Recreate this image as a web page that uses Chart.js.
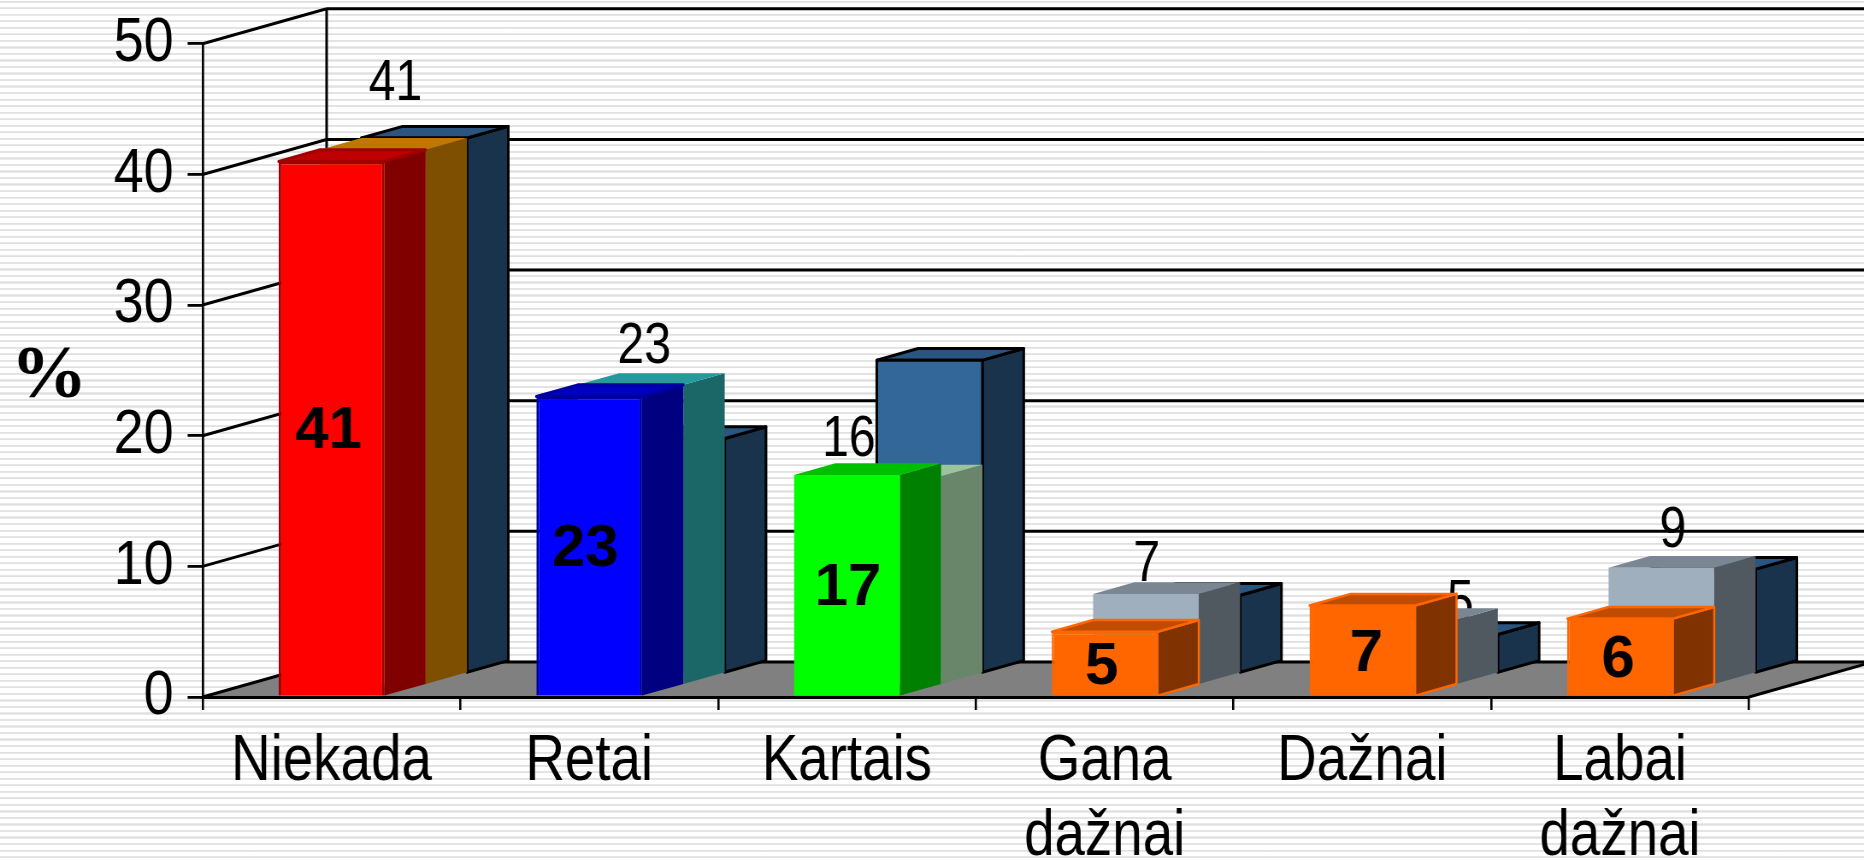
<!DOCTYPE html>
<html><head><meta charset="utf-8">
<script src="https://cdn.jsdelivr.net/npm/chart.js@4/dist/chart.umd.js"></script>
<style>
html,body{margin:0;padding:0;width:1864px;height:861px;overflow:hidden;background:#fff}
#bg{position:absolute;left:0;top:0;width:1864px;height:861px;
background-image:repeating-linear-gradient(to bottom,#fff 0,#fff 0.6px,#ebebeb 0.6px,#dedede 1.7px,#ebebeb 2.8px,#fff 2.8px,#fff 6.53px)}
#wrap{position:absolute;left:0;top:0;transform-origin:0 0}
canvas{display:block}
</style></head><body>
<div id="bg"></div>
<div id="wrap"><canvas id="c"></canvas></div>
<script>
const categories=[["Niekada"],["Retai"],["Kartais"],["Gana","dažnai"],["Dažnai"],["Labai","dažnai"]];
const yTicksMax=50, yStep=10;
const frontValues=[41,23,17,5,7,6];
const middleValues=[41,23,16,7,5,9];
const backValues=[41,18,24,6,3,8];

const frontColors=['#FF0000','#0000FF','#00FF00','#FF6600','#FF6600','#FF6600'];
const frontSides=['#800000','#000080','#008000','#803300','#803300','#803300'];
const frontTops=['#BF0000','#0000BF','#00BF00','#BF4C00','#BF4C00','#BF4C00'];
const frontBorders=['#A00000','#0000A0','#00FF00','#FF6600','#FF6600','#FF6600'];
const frontBorderW=[3,3,0,2.5,2.5,2.5];
const middleColors=['#FF9E00','#33CCCC','#D2F5D0','#A0AFBE','#A0AFBE','#A0AFBE'];
const middleSides=['#7F4F00','#1B6667','#69866A','#505860','#505860','#505860'];
const middleTops=['#BF7700','#269A9A','#9DC39C','#7A8793','#7A8793','#7A8793'];
const backColor='#336699',backSide='#1A334D',backTop='#2A5580';

// hand-placed data labels of the middle row (offset from its bar)
const midLabelShift=[64,55,2,42,98,53];
const midLabelLift=[37.7,10,9,1,-12,9];
const boldLabelShift=[-3,-4,1,-3,4,-2];

const S=0.855;                 // horizontal squeeze of the whole picture
const PW=1864,PH=861;
const X=v=>v/S;
const depthX=X(124),depthY=35,rows=3;
const rowDX=depthX/rows,rowDY=depthY/rows;

const wrap=document.getElementById('wrap');
wrap.style.transform='scaleX('+S+')';
const cv=document.getElementById('c');
cv.width=Math.round(PW/S);cv.height=PH;
cv.style.width=cv.width+'px';cv.style.height=PH+'px';

function poly(ctx,pts,fill,stroke,lw){
  ctx.beginPath();pts.forEach((p,i)=>i?ctx.lineTo(p[0],p[1]):ctx.moveTo(p[0],p[1]));ctx.closePath();
  if(fill){ctx.fillStyle=fill;ctx.fill();}
  if(stroke){ctx.strokeStyle=stroke;ctx.lineWidth=lw;ctx.lineJoin='round';ctx.stroke();}
}
function line(ctx,x1,y1,x2,y2,w){ctx.beginPath();ctx.moveTo(x1,y1);ctx.lineTo(x2,y2);ctx.strokeStyle='#000';ctx.lineWidth=w;ctx.stroke();}
function text(ctx,t,x,y,font,sx){ctx.save();ctx.translate(x,y);ctx.scale(sx,1);ctx.font=font;ctx.fillStyle='#000';ctx.textAlign='center';ctx.textBaseline='alphabetic';ctx.fillText(t,0,0);ctx.restore();}

const depthPlugin={
  id:'depth',
  beforeDraw(chart){
    const ctx=chart.ctx,ys=chart.scales.y,a=chart.chartArea;
    const L=a.left,R=a.right,y0=ys.getPixelForValue(0);
    ctx.save();
    // floor
    poly(ctx,[[L,y0],[L+depthX,y0-depthY],[R+depthX,y0-depthY],[R,y0]],'#808080');
    // walls
    ys.ticks.forEach(t=>{
      const y=ys.getPixelForValue(t.value);
      line(ctx,L,y,L+depthX,y-depthY,3);
      line(ctx,L+depthX,y-depthY,cv.width,y-depthY,3);
    });
    line(ctx,L+depthX,ys.getPixelForValue(yTicksMax)-depthY,L+depthX,y0-depthY,3);
    line(ctx,R,y0,R+depthX,y0-depthY,3);
    ctx.restore();
  },
  beforeDatasetDraw(chart,args){
    const ctx=chart.ctx,ds=chart.data.datasets[args.index],meta=args.meta;
    // middle row labels sit behind the middle row's bars
    if(ds.row===1){
      meta.data.forEach((el,i)=>{
        const yb=el.y-2*rowDY-midLabelLift[i];
        text(ctx,String(ds.data[i]),el.x+X(midLabelShift[i]),yb,'58px "Liberation Sans"',0.83/S);
      });
    }
    ctx.save();
    ctx.translate(ds.row*rowDX,-ds.row*rowDY);
    meta.data.forEach((el,i)=>{
      const w=el.width,xl=el.x-w/2,xr=el.x+w/2,yt=el.y,yb=el.base;
      const stroke=ds.edge?ds.edge[i]:null, lw=ds.edgeW?ds.edgeW[i]:0;
      const topEdge=lw?stroke:null;
      poly(ctx,[[xr,yt],[xr+rowDX,yt-rowDY],[xr+rowDX,yb-rowDY],[xr,yb]],ds.sides[i],ds.row===0&&i<3?null:topEdge,lw);
      poly(ctx,[[xl,yt],[xl+rowDX,yt-rowDY],[xr+rowDX,yt-rowDY],[xr,yt]],ds.tops[i],topEdge,lw);
    });
  },
  afterDatasetDraw(chart,args){
    const ctx=chart.ctx,ds=chart.data.datasets[args.index],meta=args.meta;
    if(ds.row===2){
      // crisp outline of the back row's front faces
      meta.data.forEach(el=>{
        const xl=el.x-el.width/2,xr=el.x+el.width/2;
        ctx.beginPath();ctx.moveTo(xl,el.base);ctx.lineTo(xl,el.y);ctx.lineTo(xr,el.y);ctx.lineTo(xr,el.base);
        ctx.strokeStyle='#000';ctx.lineWidth=3;ctx.lineJoin='round';ctx.stroke();
      });
    }
    ctx.restore();
    if(ds.row===0){
      meta.data.forEach((el,i)=>{
        const yc=(el.y+el.base)/2+20;
        text(ctx,String(ds.data[i]),el.x+X(boldLabelShift[i]),yc,'bold 60px "Liberation Sans"',1/S);
      });
    }
  },
  afterDraw(chart){
    text(chart.ctx,'%',X(49),397,'bold 73px "Liberation Serif"',1.05/S);
  }
};

const barShape={grouped:false,barPercentage:0.41,categoryPercentage:1,clip:false,borderSkipped:'bottom'};
new Chart(cv,{
  type:'bar',
  data:{labels:categories,datasets:[
    {...barShape,row:0,data:frontValues,backgroundColor:frontColors,borderColor:frontBorders,borderWidth:frontBorderW,sides:frontSides,tops:frontTops,edge:frontBorders,edgeW:frontBorderW},
    {...barShape,row:1,data:middleValues,backgroundColor:middleColors,borderWidth:0,sides:middleSides,tops:middleTops},
    {...barShape,row:2,data:backValues,backgroundColor:backColor,borderWidth:0,
      sides:backValues.map(()=>backSide),tops:backValues.map(()=>backTop),edge:backValues.map(()=>'#000'),edgeW:backValues.map(()=>3)}
  ]},
  plugins:[depthPlugin],
  options:{
    responsive:false,animation:false,devicePixelRatio:1,
    layout:{padding:{left:0,right:X(PW-1749),top:43.8,bottom:0}},
    plugins:{legend:{display:false},title:{display:false},tooltip:{enabled:false}},
    scales:{
      x:{
        type:'category',offset:true,
        border:{display:true,color:'#000',width:3,z:1},
        grid:{display:true,drawOnChartArea:false,drawTicks:true,tickLength:13,color:'#000',lineWidth:2.6,offset:true},
        ticks:{color:'#000',font:{family:'"Liberation Sans"',size:64,lineHeight:1.17},padding:15,maxRotation:0,minRotation:0,autoSkip:false},
        afterFit(s){s.height=164;s.paddingLeft=0;s.paddingRight=0;}
      },
      y:{
        min:0,max:yTicksMax,
        border:{display:true,color:'#000',width:2.7},
        grid:{display:true,drawOnChartArea:false,drawTicks:true,tickLength:X(15),color:'#000',lineWidth:2.8},
        ticks:{color:'#000',stepSize:yStep,font:{family:'"Liberation Sans"',size:63},padding:X(14),autoSkip:false},
        afterFit(s){s.width=X(202.6);s.paddingTop=0;s.paddingBottom=0;}
      }
    }
  }
});
</script>
</body></html>
